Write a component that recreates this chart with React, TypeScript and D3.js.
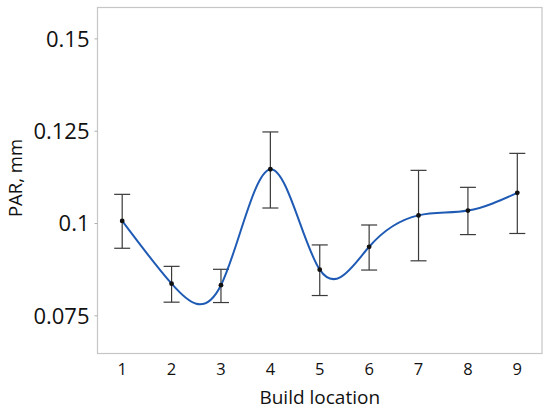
import React from "react";
import * as d3 from "d3";

const locations = [1, 2, 3, 4, 5, 6, 7, 8, 9];
const means = [0.1007, 0.0837, 0.0833, 0.1147, 0.0875, 0.0937, 0.1022, 0.1035, 0.1083];
const upper = [0.1079, 0.0884, 0.0876, 0.1248, 0.0942, 0.0996, 0.1144, 0.1098, 0.119];
const lower = [0.0933, 0.0787, 0.0786, 0.1042, 0.0805, 0.0874, 0.0899, 0.097, 0.0973];
const yTicks = [0.075, 0.1, 0.125, 0.15];
const yTickLabels = ["0.075", "0.1", "0.125", "0.15"];
const xTitle = "Build location";
const yTitle = "PAR, mm";

const W = 550;
const H = 413;
const L = 97.5, R = 542, T = 7.5, B = 353.5;
const FONT = "'Open Sans', 'Noto Sans', sans-serif";

export default function App() {
  const x = d3.scaleLinear().domain([0.5, 9.5]).range([L, R]);
  const y = d3.scaleLinear().domain([0.0648, 0.1585]).range([B, T]);
  const line = d3
    .line<number>()
    .x((_, i) => x(locations[i]))
    .y((d) => y(d))
    .curve(d3.curveNatural);
  const path = line(means) || "";
  return (
    <svg width={W} height={H} style={{ position: "absolute", left: 0, top: 0, background: "#fff" }}>
      <rect x={L} y={T} width={R - L} height={B - T} fill="none" stroke="#c6c6c6" strokeWidth={1.2} />
      {yTicks.map((t, i) => (
        <g key={t}>
          <line x1={L - 3} x2={L} y1={y(t)} y2={y(t)} stroke="#b0b0b0" strokeWidth={1} />
          <text x={L - 8} y={y(t)} dy="0.35em" textAnchor="end" fontSize={22} fontFamily={FONT} fill="#111">
            {yTickLabels[i]}
          </text>
        </g>
      ))}
      {locations.map((l) => (
        <text key={l} x={x(l)} y={374.5} textAnchor="middle" fontSize={16.5} fontFamily={FONT} fill="#111">
          {l}
        </text>
      ))}
      <text x={(L + R) / 2} y={403.5} textAnchor="middle" fontSize={19} fontFamily={FONT} fill="#111">
        {xTitle}
      </text>
      <text
        transform={`translate(22,178) rotate(-90)`}
        textAnchor="middle"
        fontSize={18.5}
        fontFamily={FONT}
        fill="#111"
      >
        {yTitle}
      </text>
      {locations.map((l, i) => (
        <g key={"e" + l} stroke="#3a3a3a" strokeWidth={1.2}>
          <line x1={x(l)} x2={x(l)} y1={y(upper[i])} y2={y(lower[i])} />
          <line x1={x(l) - 8} x2={x(l) + 8} y1={y(upper[i])} y2={y(upper[i])} />
          <line x1={x(l) - 8} x2={x(l) + 8} y1={y(lower[i])} y2={y(lower[i])} />
        </g>
      ))}
      <path d={path} fill="none" stroke="#1f5bb5" strokeWidth={2} />
      {locations.map((l, i) => (
        <circle key={"p" + l} cx={x(l)} cy={y(means[i])} r={2.4} fill="#111" />
      ))}
    </svg>
  );
}
